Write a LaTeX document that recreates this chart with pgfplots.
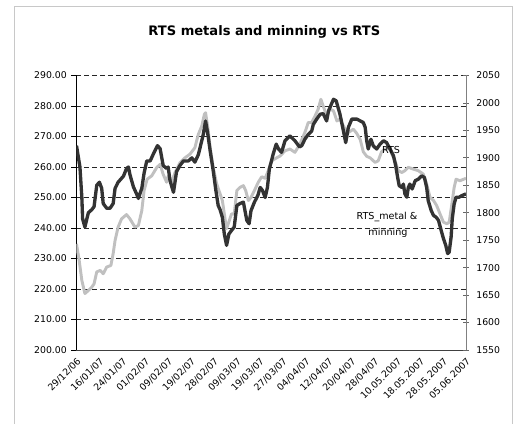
\documentclass[border=0pt]{standalone}
\usepackage{fontspec}
\setmainfont{DejaVu Sans}
\usepackage{pgfplots}
\pgfplotsset{compat=1.18}

\definecolor{rtsdark}{HTML}{333333}
\definecolor{metgray}{HTML}{C0C0C0}
\definecolor{framegray}{HTML}{C8C8C8}

\pgfplotsset{
  chartbase/.style={
    at={(57.375pt,55.5pt)}, anchor=south west, scale only axis,
    width=292.125pt, height=205.875pt,
    xmin=0, xmax=102,
    tick label style={font=\fontsize{7}{8}\selectfont},
    /pgf/number format/assume math mode=true,
    /pgf/number format/1000 sep={},
  },
}

\begin{document}
\begin{tikzpicture}[x=0.75pt,y=0.75pt]
\path[use as bounding box] (0,0) rectangle (519,424);
\draw[framegray, line width=0.75pt] (14,-5) -- (14,417) -- (512,417) -- (512,-5);
\node[font=\bfseries\fontsize{9.8}{11}\selectfont] at (264.3,392) {RTS metals and minning vs RTS};

% left axis: RTS metals & mining
\begin{axis}[chartbase,
  ymin=200, ymax=290,
  axis x line*=bottom, axis y line*=left,
  x axis line style={draw=black!75},
  y axis line style={draw=black},
  xtick={0,6,...,102},
  xticklabels={29/12/06,16/01/07,24/01/07,01/02/07,09/02/07,19/02/07,28/02/07,09/03/07,19/03/07,27/03/07,04/04/07,12/04/07,20/04/07,28/04/07,10.05.2007,18.05.2007,28.05.2007,05.06.2007},
  xticklabel style={rotate=45, anchor=north east, inner sep=1pt},
  xtick style={draw=none},
  ytick={200,210,...,290},
  yticklabel style={/pgf/number format/fixed, /pgf/number format/fixed zerofill, /pgf/number format/precision=2},
  ytick style={black, line width=0.6pt},
  tick align=outside, major tick length=3.75pt,
  ymajorgrids=true,
  grid style={black!85, line width=0.6pt, dash pattern=on 3.75pt off 2.25pt},
]
\addplot[metgray, line width=2.2pt, line join=round] coordinates {
(0,234.8) (0.7,229.4) (1.4,222.8) (2.2,218.5) (3.1,219.5) (4.0,220.6) (4.6,221.7) (5.3,225.6) (6.2,226.1) (7.0,225) (7.9,227.2) (9.0,227.7) (9.6,231.6) (10.1,235.9) (10.9,240.3) (11.8,243) (13.1,244.4) (14.0,243) (15.3,240.3) (16.2,240.8) (17.1,245.7) (17.7,252.3) (18.5,256) (19.7,257.1) (21.0,259.8) (21.9,260.9) (22.7,257.6) (23.6,255) (24.0,257) (24.9,255) (25.8,258.2) (27.1,261.4) (28.4,263) (29.7,264.2) (31.0,266.3) (31.9,270.7) (32.8,273.4) (33.5,277.3) (33.8,277.8) (34.4,272.9) (35.0,266.4) (35.8,259.9) (36.7,254.5) (37.6,251.2) (38.2,249) (38.9,243) (39.3,239.8) (39.9,242) (40.6,244.6) (41.3,244.6) (42.0,252.3) (42.8,253.3) (43.7,253.9) (44.3,252.3) (45.0,249) (45.7,250) (46.6,252.3) (47.6,255) (48.5,256.8) (49.4,256.3) (50.2,258.7) (51.1,262) (52.4,263) (53.3,263.6) (54.6,265.3) (55.9,265.9) (57.2,264.8) (58.5,267.5) (59.8,271.3) (60.7,274.6) (61.6,274.6) (62.5,276.8) (63.3,279) (64.0,282.2) (64.6,280) (65.5,276.8) (66.4,279) (67.3,278.4) (68.2,275.1) (69.0,275.7) (70.3,272.5) (71.2,271.3) (72.5,272.4) (73.4,271) (74.3,269) (75.1,265) (76.0,263.5) (76.9,263) (78.2,261.5) (79.0,262) (79.9,265) (80.9,266) (82.2,265.9) (82.6,264.2) (83.4,262) (84.3,258.8) (85.2,258.2) (86.0,258.8) (86.9,259.9) (88.2,259.3) (89.5,258.8) (90.8,257.7) (91.7,254.4) (92.6,250) (93.5,249) (94.3,247.4) (95.2,244.6) (96.1,241.9) (97.0,241.4) (97.6,241.9) (98.3,247.9) (98.9,253.3) (99.4,256) (100.4,255.5) (102,256.3)
};
\end{axis}

% right axis: RTS
\begin{axis}[chartbase,
  ymin=1550, ymax=2050,
  axis y line*=right, axis x line=none,
  y axis line style={draw=black!50},
  ytick={1550,1600,...,2050},
  ytick style={black!60, line width=0.6pt},
  tick align=center, major tick length=4.5pt,
  yticklabel style={xshift=2pt},
]
\addplot[rtsdark, line width=2.5pt, line join=round] coordinates {
(0,1922.2) (0.9,1883.3) (1.4,1827.8) (1.6,1788.9) (2.2,1773.9) (3.1,1800) (4.0,1805.6) (4.6,1811.1) (5.3,1850) (6.0,1855.6) (6.6,1844.4) (7.0,1816.7) (7.9,1808.3) (8.8,1808.3) (9.6,1816.7) (10.1,1844.4) (10.9,1855.6) (12.3,1866.7) (13.1,1880.6) (13.6,1883.3) (14.0,1869.4) (14.9,1847.2) (15.8,1833.3) (16.2,1826.1) (17.1,1844.4) (17.7,1872.2) (18.4,1894.4) (19.3,1894.4) (20.1,1906.7) (21.2,1922.2) (21.9,1916.7) (22.7,1886.1) (23.6,1880.6) (24.0,1883.3) (24.5,1858.3) (25.4,1837.2) (26.2,1875) (27.1,1886.1) (28.0,1894.4) (29.3,1894.4) (30.2,1900) (31.0,1892.2) (31.9,1905.6) (32.8,1931.1) (33.2,1942.8) (33.8,1967.2) (34.4,1942.8) (35.0,1912.8) (35.8,1876.7) (36.5,1840.6) (37.1,1813.3) (37.6,1805.6) (38.2,1791.7) (38.7,1761.7) (39.3,1740.6) (39.9,1761.1) (40.6,1767.8) (41.3,1773.9) (42.0,1813.3) (42.8,1816.7) (43.7,1819.4) (44.6,1786.1) (45.2,1780) (45.7,1803.9) (46.6,1819.4) (47.5,1831.7) (48.1,1846.1) (48.7,1840.6) (49.4,1827.8) (50.0,1846.1) (50.5,1879.4) (51.5,1906.7) (52.3,1925) (52.9,1916.1) (53.7,1910) (54.6,1931.1) (55.9,1940) (57.2,1931.1) (58.4,1920) (59.0,1922.2) (59.8,1933.9) (60.7,1942.8) (61.6,1948.9) (62.0,1960.6) (62.9,1970.6) (63.8,1979.4) (64.6,1980.6) (65.5,1967.2) (66.0,1985.6) (67.3,2006.7) (68.0,2003.9) (69.0,1979.4) (69.9,1948.9) (70.5,1927.8) (71.2,1955.6) (72.1,1970.6) (73.4,1970.6) (75.1,1964.4) (75.6,1955.6) (76.0,1931.1) (76.4,1916.1) (77.1,1933.9) (77.7,1922.2) (78.6,1916.1) (79.5,1925) (80.4,1931.1) (81.2,1927.8) (82.1,1916.1) (83.0,1903.9) (83.6,1885.6) (84.1,1864.4) (84.5,1849.4) (85.2,1846.1) (85.6,1852.2) (86.0,1834.4) (86.5,1828.3) (86.9,1846.1) (87.3,1852.2) (87.9,1843.3) (88.7,1858.3) (89.5,1861.1) (90.4,1867.2) (91.1,1864.4) (91.7,1846.1) (92.1,1822.2) (92.9,1803.9) (93.5,1795) (94.2,1791.7) (94.8,1786.1) (95.5,1767.8) (96.1,1752.8) (96.7,1740.6) (97.2,1725.6) (97.6,1728.3) (98.1,1755.6) (98.4,1788.9) (98.9,1816.1) (99.4,1828.3) (100.2,1828.3) (100.9,1831.1) (102,1834.4)
};
\end{axis}

\node[font=\fontsize{7.2}{8}\selectfont] at (391,274) {RTS};
\node[font=\fontsize{7.2}{8}\selectfont, inner sep=0pt] at (387,207) {RTS\_metal \&};
\node[font=\fontsize{7.2}{8}\selectfont, inner sep=0pt] at (388,191) {minning};
\end{tikzpicture}
\end{document}
